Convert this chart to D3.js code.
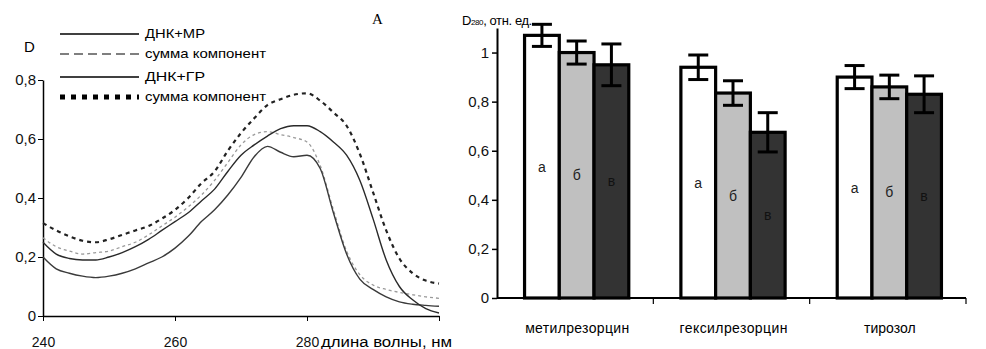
<!DOCTYPE html>
<meta charset="utf-8">
<style>
body { margin: 0; background: #fff; }
svg { font-family: "Liberation Sans", Arial, sans-serif; }
.axis path, .axis line { stroke: #000; }
</style>
<body>
<script src="https://d3js.org/d3.v7.min.js"></script>
<script>
// ---- left panel: spectra ----
var wave = [240,242,244,246,248,250,252,254,256,258,260,262,264,266,268,270,
            272,274,276,278,280,282,284,286,288,290,292,294,296,298,300];
var dnkMR = [0.20,0.16,0.145,0.135,0.13,0.135,0.145,0.16,0.18,0.20,0.23,0.27,0.32,0.36,0.41,0.47,
             0.54,0.575,0.555,0.54,0.545,0.50,0.35,0.21,0.125,0.09,0.065,0.048,0.04,0.036,0.033];
var sumMR = [0.265,0.235,0.22,0.21,0.215,0.22,0.235,0.25,0.275,0.305,0.335,0.37,0.41,0.46,0.52,0.58,
             0.615,0.625,0.615,0.605,0.59,0.51,0.36,0.22,0.14,0.105,0.09,0.08,0.072,0.065,0.06];
var dnkGR = [0.25,0.21,0.195,0.19,0.19,0.20,0.215,0.235,0.26,0.29,0.32,0.35,0.39,0.43,0.49,0.545,
             0.58,0.61,0.635,0.645,0.645,0.625,0.59,0.545,0.46,0.33,0.19,0.10,0.055,0.025,0.01];
var sumGR = [0.315,0.29,0.27,0.255,0.25,0.26,0.275,0.29,0.305,0.33,0.36,0.40,0.45,0.49,0.56,0.62,
             0.67,0.715,0.735,0.75,0.755,0.73,0.69,0.645,0.55,0.42,0.29,0.195,0.145,0.12,0.11];
var legendNames = ["ДНК+МР", "сумма компонент", "ДНК+ГР", "сумма компонент"];
var leftTicksY = [0, 0.2, 0.4, 0.6, 0.8];
var leftTicksX = [240, 260, 280, 300];

// ---- right panel: bars ----
var categories = ["метилрезорцин", "гексилрезорцин", "тирозол"];
var subgroups = ["а", "б", "в"];
var barValues = [[1.07, 1.00, 0.95], [0.94, 0.835, 0.675], [0.90, 0.86, 0.83]];
var barErrors = [[0.045, 0.047, 0.085], [0.05, 0.05, 0.08], [0.047, 0.048, 0.075]];
var rightTicksY = [0, 0.2, 0.4, 0.6, 0.8, 1];

var comma = function(d) { return String(d).replace(".", ","); };

var svg = d3.select("body").append("svg")
    .attr("width", 986)
    .attr("height", 349);

// ================= left chart =================
var x = d3.scaleLinear().domain([240, 300]).range([43, 439]);
var y = d3.scaleLinear().domain([0, 0.8]).range([316, 80]);

var gl = svg.append("g");

gl.append("g").attr("class", "axis")
    .attr("transform", "translate(0,316)")
    .call(d3.axisBottom(x).tickValues(leftTicksX).tickSize(5).tickSizeOuter(0)
        .tickFormat(function(d) { return d == 300 ? "" : d; }))
    .call(function(g) {
        g.select(".domain").attr("stroke-width", 1.5);
        g.selectAll("text").attr("font-size", 14).attr("fill", "#111").attr("y", 21);
    });

gl.append("g").attr("class", "axis")
    .attr("transform", "translate(43,0)")
    .call(d3.axisLeft(y).tickValues(leftTicksY).tickSize(5).tickSizeOuter(0).tickFormat(comma))
    .call(function(g) {
        g.select(".domain").attr("stroke-width", 1.5);
        g.selectAll("text").attr("font-size", 15).attr("fill", "#111").attr("x", -7);
    });

gl.append("text").attr("x", 24).attr("y", 52).attr("font-size", 15).text("D");
gl.append("text").attr("x", 321).attr("y", 347).attr("font-size", 14)
    .attr("textLength", 131).attr("lengthAdjust", "spacingAndGlyphs")
    .text("длина волны, нм");
gl.append("text").attr("x", 372).attr("y", 24).attr("font-size", 15)
    .attr("font-family", "Liberation Serif, serif").text("А");

var line = d3.line()
    .x(function(d, i) { return x(wave[i]); })
    .y(function(d) { return y(d); })
    .curve(d3.curveMonotoneX);

var series = [
    { v: sumMR, stroke: "#9a9a9a", w: 1.3, dash: "3,3" },
    { v: dnkMR, stroke: "#3a3a3a", w: 1.4, dash: null },
    { v: dnkGR, stroke: "#2a2a2a", w: 1.4, dash: null },
    { v: sumGR, stroke: "#222", w: 2.2, dash: "4,4" }
];
gl.selectAll("path.curve")
    .data(series)
    .enter().append("path")
    .attr("class", "curve")
    .attr("d", function(d) { return line(d.v); })
    .attr("fill", "none")
    .attr("stroke", function(d) { return d.stroke; })
    .attr("stroke-width", function(d) { return d.w; })
    .attr("stroke-dasharray", function(d) { return d.dash; });

// legend
var legStyles = [
    { dash: null, w: 1.5, y: 34 },
    { dash: "9,5", w: 1.2, y: 54 },
    { dash: null, w: 1.5, y: 77 },
    { dash: "5,6", w: 5, y: 97 }
];
var leg = gl.selectAll("g.leg")
    .data(legendNames)
    .enter().append("g")
    .attr("class", "leg")
    .attr("transform", function(d, i) { return "translate(0," + legStyles[i].y + ")"; });
leg.append("line")
    .attr("x1", 60).attr("x2", 139)
    .attr("stroke", "#000")
    .attr("stroke-width", function(d, i) { return legStyles[i].w; })
    .attr("stroke-dasharray", function(d, i) { return legStyles[i].dash; });
leg.append("text")
    .attr("x", 145).attr("y", 4)
    .attr("font-size", 13)
    .attr("textLength", function(d, i) { return i % 2 ? 121 : 60; })
    .attr("lengthAdjust", "spacingAndGlyphs")
    .text(function(d) { return d; });

// ================= right chart =================
var x0 = d3.scaleBand().domain(categories).range([497, 966]).padding(0);
var x1 = d3.scaleBand().domain(subgroups).range([0, x0.bandwidth()])
    .paddingInner(0).paddingOuter(0.75);
var y2 = d3.scaleLinear().domain([0, 1.1]).range([298, 28]);
var fills = { "а": "#ffffff", "б": "#c0c0c0", "в": "#333333" };
var catWidths = [104, 108, null];

var gr = svg.append("g");

gr.append("g").attr("class", "axis")
    .attr("transform", "translate(497,0)")
    .call(d3.axisLeft(y2).tickValues(rightTicksY).tickSize(5).tickSizeOuter(0).tickFormat(comma))
    .call(function(g) {
        g.select(".domain").attr("stroke-width", 2);
        g.selectAll("line").attr("stroke-width", 1.5);
        g.selectAll("text").attr("font-size", 15).attr("fill", "#111").attr("x", -8);
    });

gr.append("line").attr("x1", 497).attr("x2", 966)
    .attr("y1", y2(0)).attr("y2", y2(0))
    .attr("stroke", "#000").attr("stroke-width", 2);
gr.selectAll("line.ctick")
    .data(categories)
    .enter().append("line")
    .attr("class", "ctick")
    .attr("x1", function(d) { return x0(d) + x0.bandwidth(); })
    .attr("x2", function(d) { return x0(d) + x0.bandwidth(); })
    .attr("y1", y2(0)).attr("y2", y2(0) + 6)
    .attr("stroke", "#000").attr("stroke-width", 1.2);
gr.selectAll("text.cat")
    .data(categories)
    .enter().append("text")
    .attr("class", "cat")
    .attr("x", function(d) { return x0(d) + x0.bandwidth() / 2 + 2; })
    .attr("y", 333)
    .attr("text-anchor", "middle")
    .attr("font-size", 14)
    .attr("textLength", function(d, i) { return catWidths[i]; })
    .attr("lengthAdjust", "spacing")
    .text(function(d) { return d; });

gr.append("text").attr("x", 462).attr("y", 25).attr("font-size", 13).attr("letter-spacing", -0.4)
    .html('D<tspan font-size="8">280</tspan>, отн. ед.');

var groups = gr.selectAll("g.grp")
    .data(categories)
    .enter().append("g")
    .attr("class", "grp")
    .attr("transform", function(d) { return "translate(" + x0(d) + ",0)"; });

groups.each(function(cat, ci) {
    var g = d3.select(this);
    var items = subgroups.map(function(s, si) {
        return { s: s, v: barValues[ci][si], e: barErrors[ci][si] };
    });
    g.selectAll("rect")
        .data(items)
        .enter().append("rect")
        .attr("x", function(d) { return x1(d.s) + 1.5; })
        .attr("y", function(d) { return y2(d.v); })
        .attr("width", x1.bandwidth())
        .attr("height", function(d) { return y2(0) - y2(d.v); })
        .attr("fill", function(d) { return fills[d.s]; })
        .attr("stroke", "#000")
        .attr("stroke-width", 3.2);
    var eb = g.selectAll("g.err")
        .data(items)
        .enter().append("g")
        .attr("class", "err")
        .attr("transform", function(d) { return "translate(" + (x1(d.s) + 1.5 + x1.bandwidth() / 2) + ",0)"; });
    eb.append("line")
        .attr("y1", function(d) { return y2(d.v + d.e); })
        .attr("y2", function(d) { return y2(d.v - d.e); })
        .attr("stroke", "#000").attr("stroke-width", 3);
    eb.append("line")
        .attr("x1", -10).attr("x2", 10)
        .attr("y1", function(d) { return y2(d.v + d.e); })
        .attr("y2", function(d) { return y2(d.v + d.e); })
        .attr("stroke", "#000").attr("stroke-width", 3);
    eb.append("line")
        .attr("x1", -10).attr("x2", 10)
        .attr("y1", function(d) { return y2(d.v - d.e); })
        .attr("y2", function(d) { return y2(d.v - d.e); })
        .attr("stroke", "#000").attr("stroke-width", 3);
    g.selectAll("text.lab")
        .data(items)
        .enter().append("text")
        .attr("class", "lab")
        .attr("x", function(d) { return x1(d.s) + 1.5 + x1.bandwidth() / 2; })
        .attr("y", function(d) { return y2(d.v / 2) + 5; })
        .attr("text-anchor", "middle")
        .attr("font-size", 14)
        .attr("fill", function(d) { return d.s == "в" ? "#111" : "#222"; })
        .text(function(d) { return d.s; });
});
</script>
</body>
</html>
